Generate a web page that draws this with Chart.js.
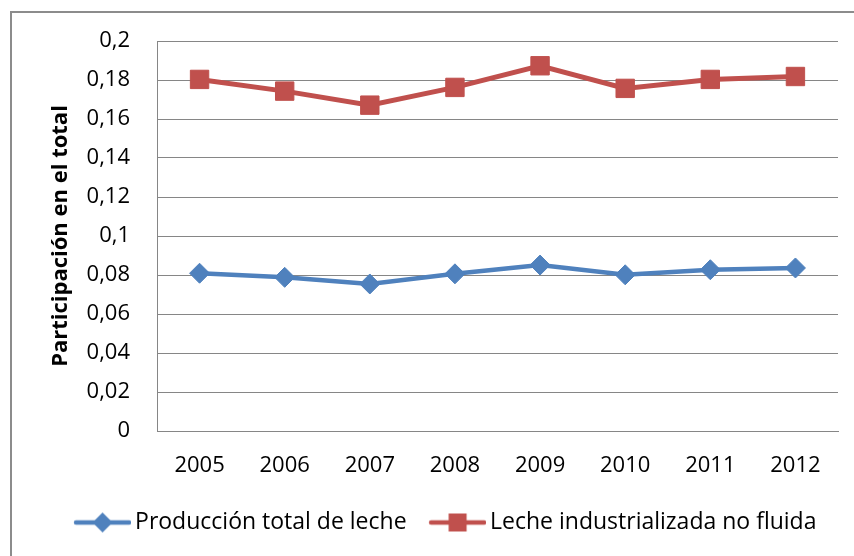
<!DOCTYPE html>
<html>
<head>
<meta charset="utf-8">
<script src="https://cdn.jsdelivr.net/npm/chart.js@4.4.1/dist/chart.umd.min.js"></script>
<style>
    html, body { margin: 0; padding: 0; background: #ffffff; }
    #wrap { position: relative; width: 854px; height: 556px; overflow: hidden; }
    #frame { position: absolute; left: 10px; top: 11px; width: 900px; height: 600px; border: 2px solid #8c8c8c; box-sizing: border-box; }
    canvas { position: absolute; left: 0; top: 0; }
</style>
</head>
<body>
<div id="wrap">
    <div id="frame"></div>
    <canvas id="chart" width="854" height="556"></canvas>
</div>
<script>
// Participación en el total, 2005-2012
const years = ['2005', '2006', '2007', '2008', '2009', '2010', '2011', '2012'];
const produccionTotal = [0.0809, 0.0788, 0.0754, 0.0806, 0.0851, 0.0801, 0.0827, 0.0836];
const lecheNoFluida = [0.1803, 0.1743, 0.1671, 0.1762, 0.1873, 0.1757, 0.1803, 0.1818];
const seriesNames = ['Producción total de leche', 'Leche industrializada no fluida'];

const BLUE = '#4F81BD';
const RED = '#C0504D';
const FONT = "'Open Sans', sans-serif";

// legend symbol: short line with the marker in the middle (Excel style)
// blank space on the left keeps the gap between the two legend entries
function legendSymbol(color, shape) {
    const c = document.createElement('canvas');
    c.width = 77;
    c.height = 24;
    const g = c.getContext('2d');
    g.strokeStyle = color;
    g.lineWidth = 4.5;
    g.lineCap = 'round';
    g.beginPath();
    g.moveTo(22, 12);
    g.lineTo(75, 12);
    g.stroke();
    g.fillStyle = color;
    g.beginPath();
    if (shape === 'diamond') {
        g.moveTo(48.5, 2);
        g.lineTo(58.5, 12);
        g.lineTo(48.5, 22);
        g.lineTo(38.5, 12);
    } else {
        g.rect(39.5, 3, 18, 18);
    }
    g.closePath();
    g.fill();
    return c;
}

const symbols = [legendSymbol(BLUE, 'diamond'), legendSymbol(RED, 'rect')];

function formatTick(value) {
    return parseFloat(value.toFixed(2)).toString().replace('.', ',');
}

const ctx = document.getElementById('chart');

new Chart(ctx, {
    type: 'line',
    data: {
        labels: years,
        datasets: [
            {
                label: seriesNames[0],
                data: produccionTotal,
                borderColor: BLUE,
                backgroundColor: BLUE,
                borderWidth: 4.5,
                pointStyle: 'rectRot',
                pointRadius: 10,
                pointBorderWidth: 1,
                tension: 0
            },
            {
                label: seriesNames[1],
                data: lecheNoFluida,
                borderColor: RED,
                backgroundColor: RED,
                borderWidth: 5,
                pointStyle: 'rect',
                pointRadius: 13,
                pointBorderWidth: 1,
                tension: 0
            }
        ]
    },
    options: {
        responsive: false,
        animation: false,
        layout: {
            padding: { left: 40, right: 16, top: 41, bottom: 12 }
        },
        plugins: {
            tooltip: { enabled: false },
            legend: {
                position: 'bottom',
                labels: {
                    color: '#000000',
                    font: { family: FONT, size: 23 },
                    padding: 10,
                    usePointStyle: true,
                    pointStyleWidth: 62,
                    generateLabels: function(chart) {
                        return chart.data.datasets.map((ds, i) => ({
                            text: ds.label,
                            pointStyle: symbols[i],
                            fillStyle: ds.backgroundColor,
                            strokeStyle: ds.borderColor,
                            lineWidth: 0,
                            hidden: false,
                            datasetIndex: i
                        }));
                    }
                }
            }
        },
        scales: {
            x: {
                offset: true,
                grid: { display: false, drawTicks: false },
                border: { display: true, color: '#868686', width: 1 },
                ticks: {
                    color: '#000000',
                    font: { family: FONT, size: 22 },
                    padding: 22,
                    maxRotation: 0
                },
                afterFit: function(scale) {
                    scale.height = 70;
                }
            },
            y: {
                min: 0,
                max: 0.2,
                grid: { color: '#868686', lineWidth: 1, drawTicks: false },
                border: { display: true, color: '#868686', width: 1 },
                ticks: {
                    stepSize: 0.02,
                    color: '#000000',
                    font: { family: FONT, size: 22 },
                    padding: 27,
                    callback: formatTick
                },
                title: {
                    display: true,
                    text: 'Participación en el total',
                    color: '#000000',
                    font: { family: FONT, size: 22, weight: 'bold' },
                    padding: { top: 8, bottom: 0 }
                },
                afterFit: function(scale) {
                    scale.width = 117;
                }
            }
        }
    }
});
</script>
</body>
</html>
